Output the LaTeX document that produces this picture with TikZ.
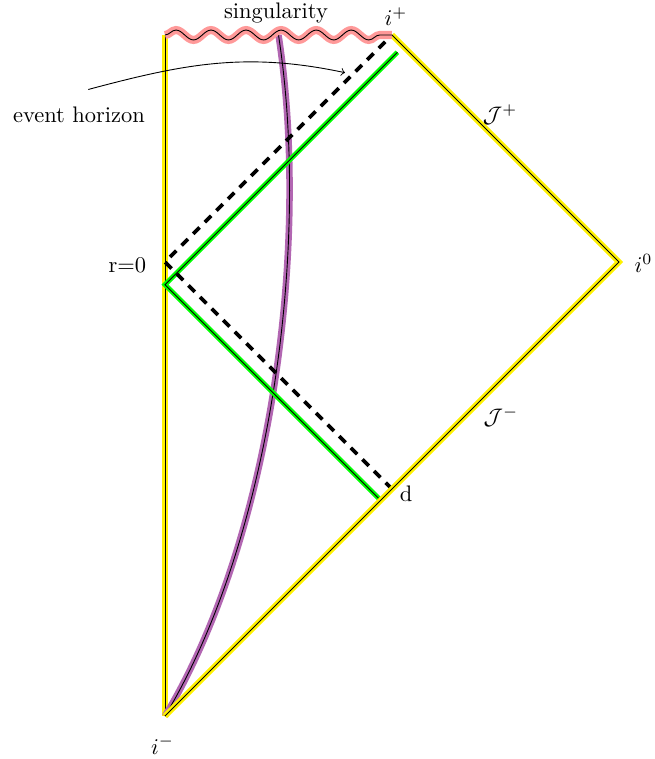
\documentclass[tikz,border=0pt]{standalone}
\usetikzlibrary{decorations.pathmorphing}
\begin{document}
\begin{tikzpicture}[x=0.71cm,y=0.71cm,
  yelband/.style={draw=yellow,line width=2.6pt},
  grnband/.style={draw=green,line width=2.2pt},
  purband/.style={draw=violet!60,line width=2.9pt},
  pnkband/.style={draw=red!40,line width=3.6pt},
  core/.style={draw=black,line width=0.4pt},
  horiz/.style={draw=black,line width=1.6pt,dash pattern=on 4pt off 3.3pt},
  wavy/.style={decorate,decoration={snake,segment length=15.6pt,amplitude=2.2pt}}]
\useasboundingbox (-3.634,-0.947) rectangle (10.793,15.771);
\coordinate (im) at (0,0);
\coordinate (tl) at (0,15);
\coordinate (ip) at (5,15);
\coordinate (io) at (10,10);
\coordinate (r0) at (0,9.5);
\coordinate (d) at (4.75,4.75);
\coordinate (gt) at (5.12,14.62);
\coordinate (h0) at (0,10);
\coordinate (hb) at (5,5);
\coordinate (pt) at (2.5,15);
\coordinate (as) at (-1.689,13.80);
\coordinate (ae) at (3.965,14.17);
% wall r=0
\draw[yelband] (im) -- (tl);
\draw[core] (im) -- (tl);
% infalling worldline
\draw[purband] (im) .. controls (2.4,4) and (3.2,10.5) .. (pt);
\draw[core] (im) .. controls (2.4,4) and (3.2,10.5) .. (pt);
% null shell
\draw[grnband] (gt) -- (r0) -- (d);
\draw[core] (gt) -- (r0) -- (d);
% event horizon
\draw[horiz] (hb) -- (h0) -- (ip);
% scri
\draw[yelband] (ip) -- (io) -- (im);
\draw[core] (ip) -- (io) -- (im);
% singularity
\draw[pnkband,wavy] (tl) -- (ip);
\draw[core,wavy] (tl) -- (ip);
% labels
\node (sing) at (2.445,15.49) {singularity};
\node (iplab) at (5.09,15.40) {$i^+$};
\node (jp) at (7.38,13.24) {$\mathcal{J}^+$};
\node (i0lab) at (10.54,9.96) {$i^0$};
\node (r0lab) at (-0.83,9.93) {r=0};
\node (jm) at (7.40,6.59) {$\mathcal{J}^-$};
\node (dlab) at (5.31,4.89) {d};
\node (imlab) at (-0.055,-0.64) {$i^-$};
\node (eh) at (-1.894,13.25) {event horizon};
\draw[->] (as) to[out=15,in=168] (ae);
\end{tikzpicture}
\end{document}
